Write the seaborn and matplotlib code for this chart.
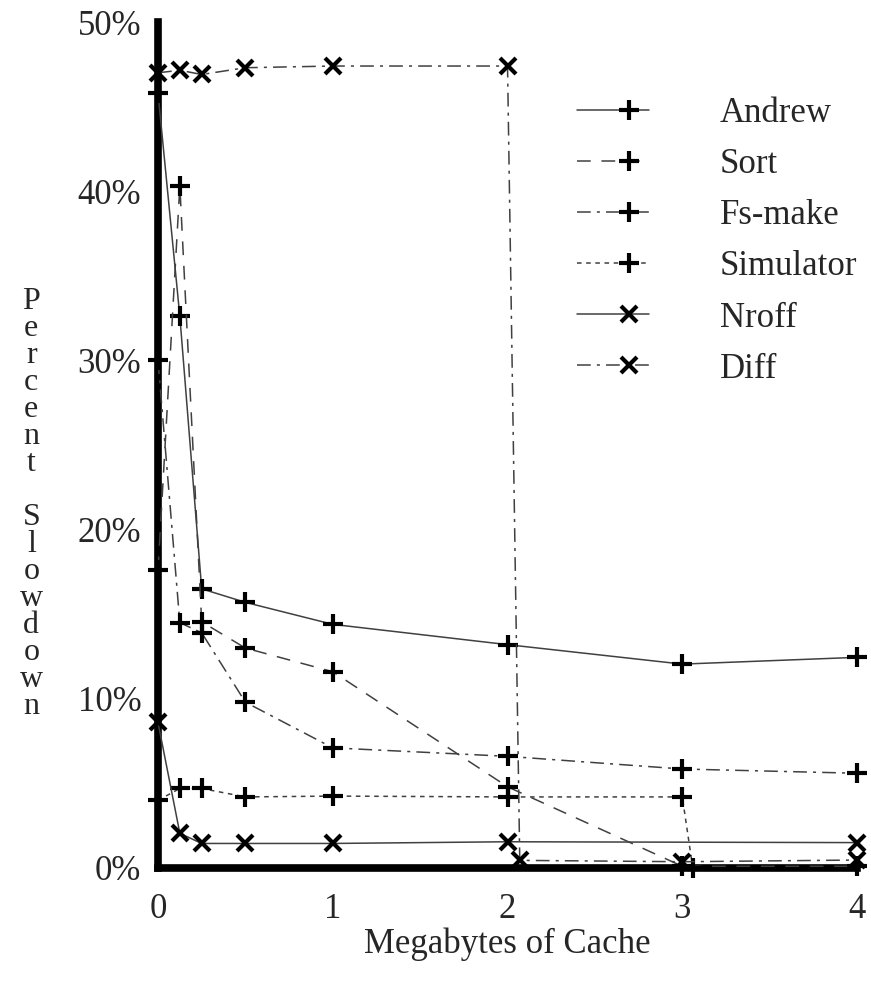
import numpy as np
import pandas as pd
import seaborn as sns
import matplotlib
matplotlib.use("Agg")
import matplotlib.pyplot as plt
from matplotlib.ticker import FuncFormatter
from matplotlib.lines import Line2D
from matplotlib.legend_handler import HandlerLine2D

# values (x = MB of cache, y = % slowdown)
andrew_x = [0, 0.125, 0.25, 0.5, 1, 2, 3, 4]
andrew_y = [45.8, 32.6, 16.5, 15.7, 14.4, 13.2, 12.05, 12.45]

sort_x = [0, 0.125, 0.25, 0.5, 1, 2, 3, 4]
sort_y = [17.6, 40.3, 14.55, 13.0, 11.6, 4.8, 0.1, 0.1]

fsmake_x = [0, 0.125, 0.25, 0.5, 1, 2, 3, 4]
fsmake_y = [30.0, 14.5, 13.9, 9.8, 7.1, 6.6, 5.85, 5.6]

sim_x = [0, 0.125, 0.25, 0.5, 1, 2, 3, 3.06]
sim_y = [4.0, 4.7, 4.7, 4.2, 4.25, 4.2, 4.2, 0.0]

nroff_x = [0, 0.125, 0.25, 0.5, 1, 2, 4]
nroff_y = [8.6, 2.05, 1.45, 1.45, 1.45, 1.55, 1.5]

diff_x = [0, 0.125, 0.25, 0.5, 1, 2, 2.07, 3, 4]
diff_y = [47.0, 47.15, 46.9, 47.3, 47.4, 47.4, 0.45, 0.37, 0.47]

series = [
    ("Andrew", andrew_x, andrew_y, "-", "+"),
    ("Sort", sort_x, sort_y, (0, (9, 7)), "+"),
    ("Fs-make", fsmake_x, fsmake_y, (0, (9, 4, 2, 4)), "+"),
    ("Simulator", sim_x, sim_y, (0, (3, 3)), "+"),
    ("Nroff", nroff_x, nroff_y, "-", "x"),
    ("Diff", diff_x, diff_y, (0, (9, 4, 2, 4)), "x"),
]


class RightMarker(HandlerLine2D):
    # legend marker sits toward the right end of the sample line
    def create_artists(self, legend, orig_handle, xdescent, ydescent,
                       width, height, fontsize, trans):
        arts = super().create_artists(legend, orig_handle, xdescent, ydescent,
                                      width, height, fontsize, trans)
        for a in arts:
            xd = np.asarray(a.get_xdata(), float)
            if len(xd) == 3:
                a.set_xdata([xd[0], xd[0] + 0.72 * (xd[2] - xd[0]), xd[2]])
        return arts


sns.set_style("white")
plt.rcParams["font.family"] = ["Liberation Serif", "DejaVu Serif"]

fig = plt.figure(figsize=(8.71, 9.84), dpi=100)
ax = fig.add_axes([0.1814, 0.1179, 0.8026, 0.8597])

for name, xs, ys, ls, mk in series:
    df = pd.DataFrame({"mb": xs, "slow": ys})
    sns.lineplot(data=df, x="mb", y="slow", ax=ax, label=name, color="0.25",
                 linestyle=ls, linewidth=1.1, marker=mk,
                 markersize=14 if mk == "+" else 11,
                 markeredgewidth=3.0, markeredgecolor="black",
                 markerfacecolor="black", clip_on=False, zorder=4,
                 sort=False)

ax.set_xlim(0, 4)
ax.set_ylim(0, 50)
ax.set_xticks([0, 1, 2, 3, 4])
ax.set_yticks([0, 10, 20, 30, 40, 50])
ax.yaxis.set_major_formatter(FuncFormatter(lambda v, p: f"{int(v)}%"))

for side in ["top", "right"]:
    ax.spines[side].set_visible(False)
for side in ["left", "bottom"]:
    ax.spines[side].set_linewidth(5.5)
    ax.spines[side].set_color("black")
    ax.spines[side].set_zorder(2)

ax.tick_params(axis="both", direction="out", length=7, width=4.5,
               color="black", labelsize=25)
ax.tick_params(axis="x", pad=11)
ax.tick_params(axis="y", pad=5)

ax.set_xlabel("Megabytes of Cache", fontsize=25, labelpad=1)
ax.set_ylabel("")
fig.text(0.036, 0.488, "\n".join("Percent") + "\n\n" + "\n".join("Slowdown"),
         fontsize=23, ha="center", va="center", linespacing=0.91)

handles, labels = ax.get_legend_handles_labels()
ax.legend(handles, labels, loc="upper left", bbox_to_anchor=(0.6, 0.911),
          frameon=False, fontsize=25, handlelength=2.05, handletextpad=2.05,
          labelspacing=0.52, borderaxespad=0, borderpad=0,
          handler_map={Line2D: RightMarker()})

fig.savefig("out.png", dpi=100)
